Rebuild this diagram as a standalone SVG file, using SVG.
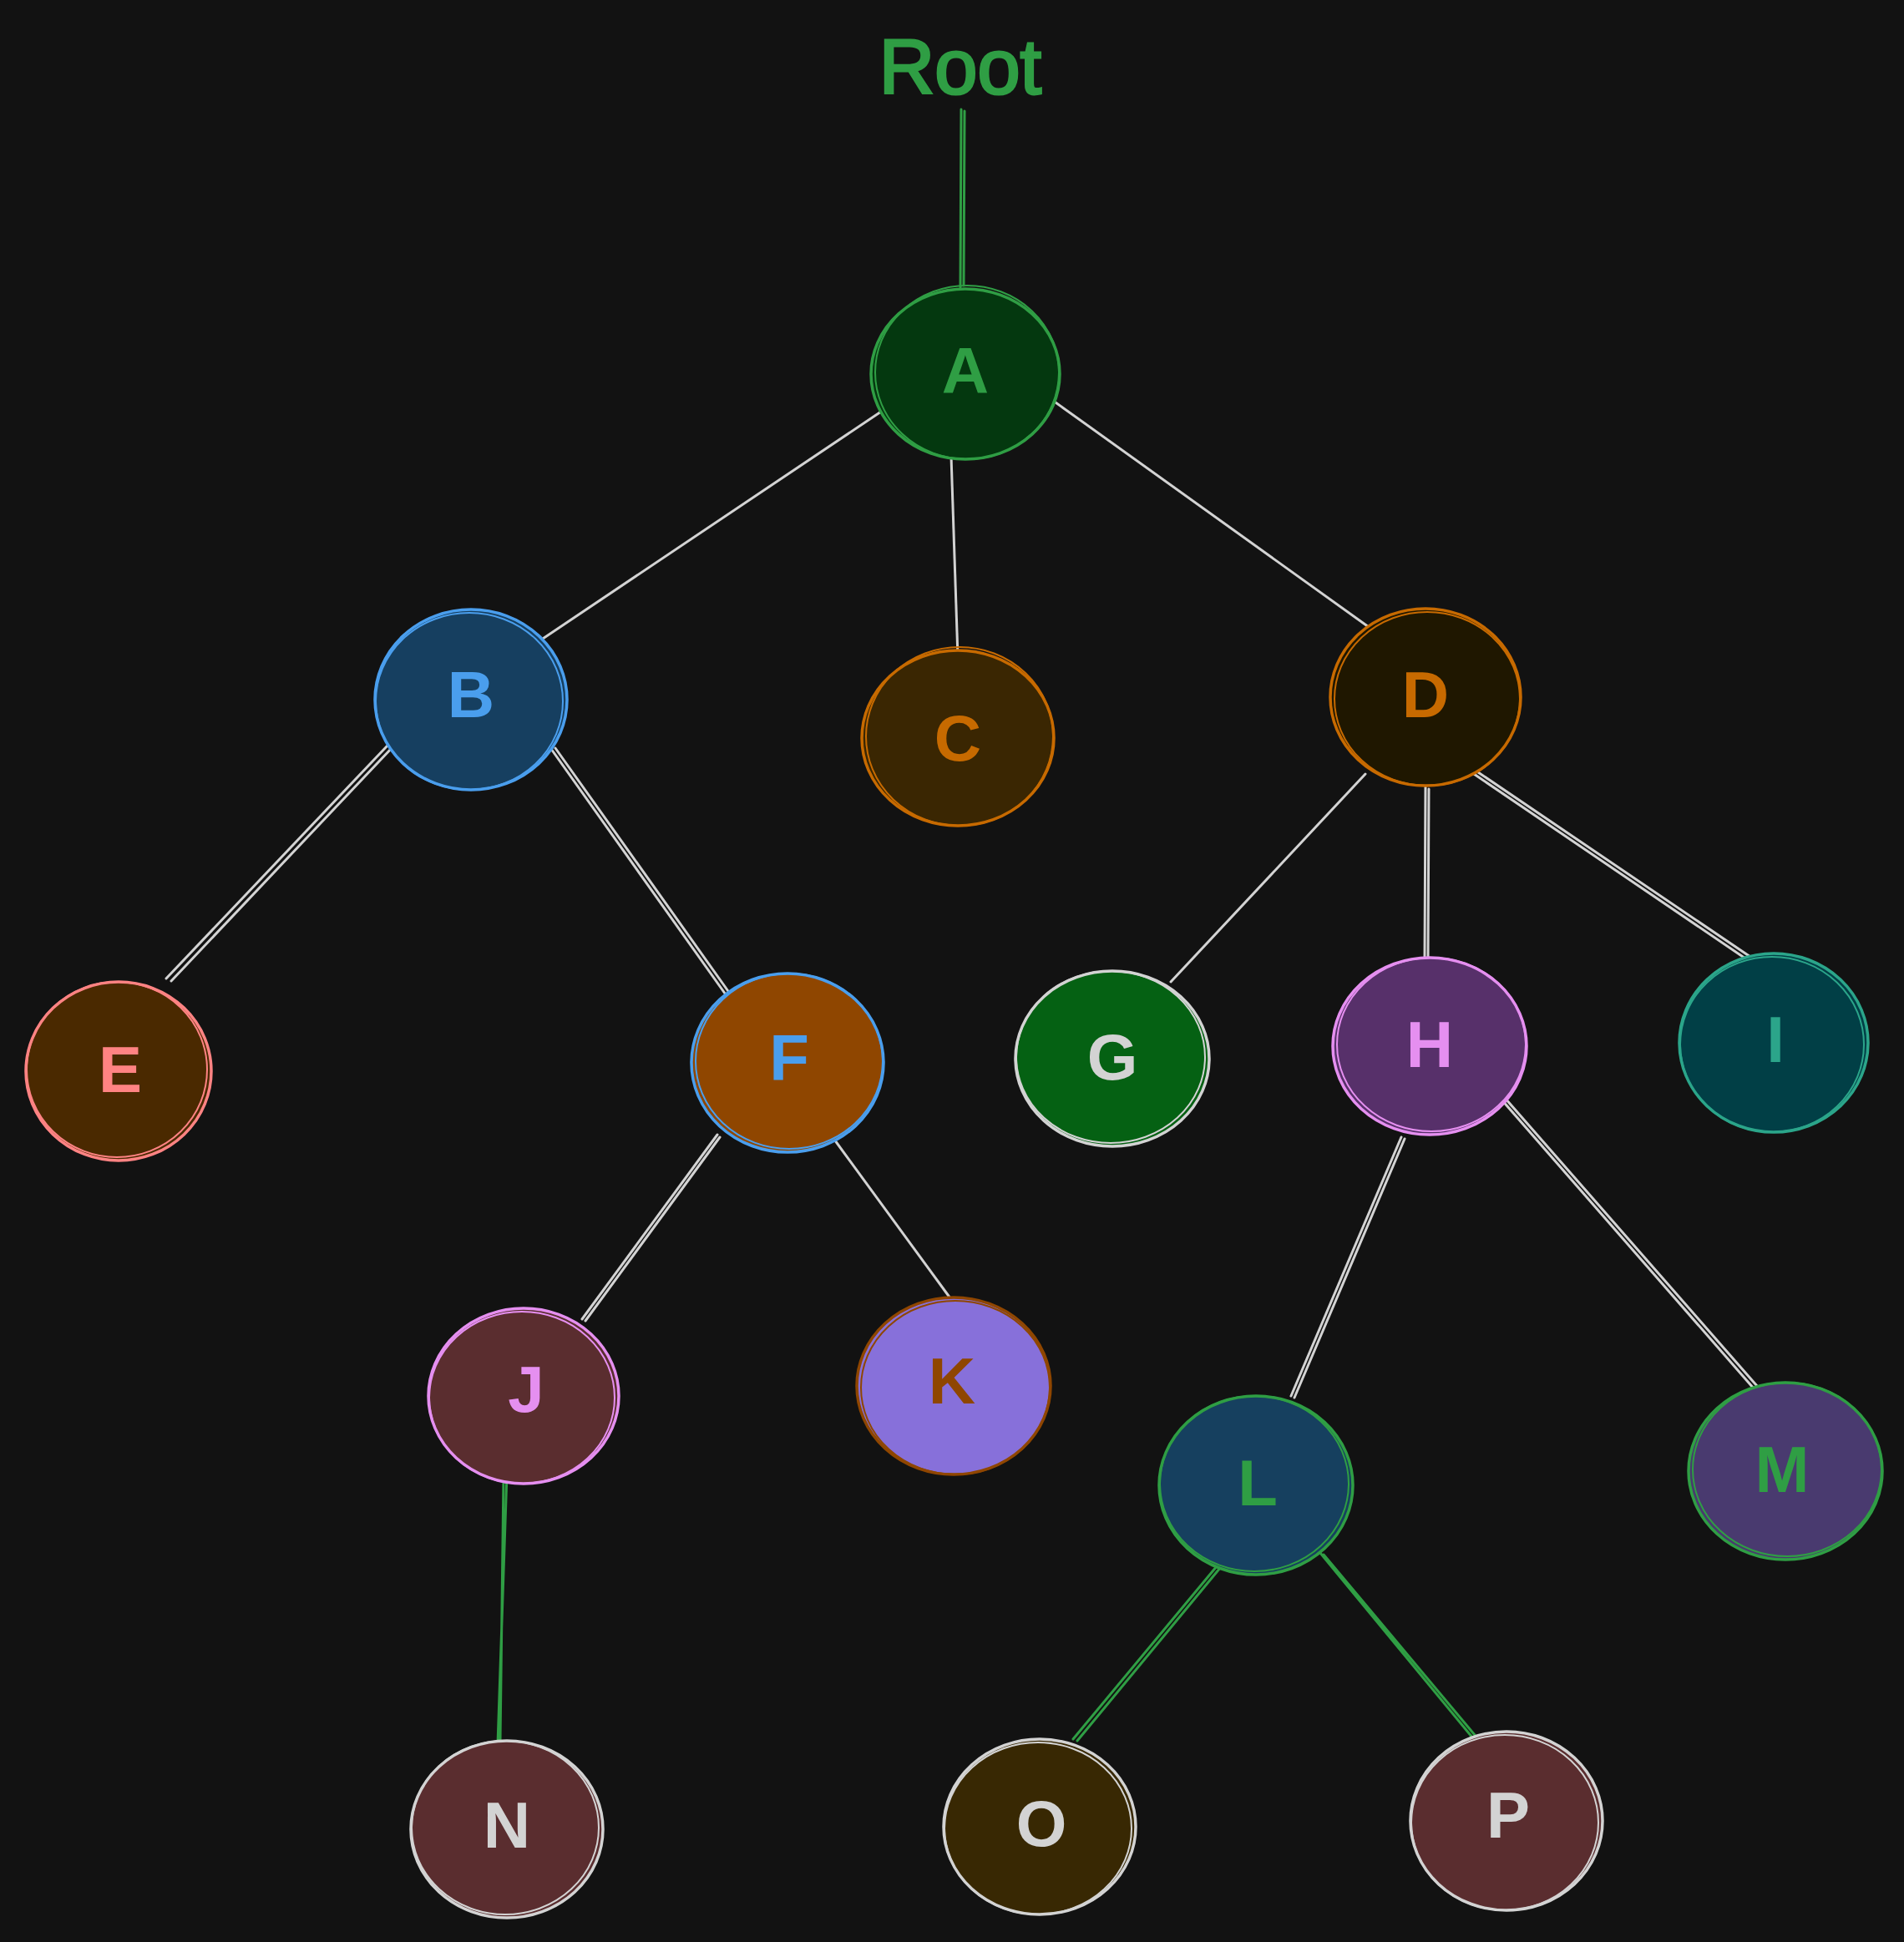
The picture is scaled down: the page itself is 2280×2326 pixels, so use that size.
<svg xmlns="http://www.w3.org/2000/svg" width="2280" height="2326" viewBox="0 0 2280 2326">
<style>
.bg{fill:#121212}
.lbl{font-family:"Liberation Sans","DejaVu Sans",sans-serif;font-size:78px;font-weight:bold;text-anchor:middle;dominant-baseline:central}
.ring{fill:none;stroke-width:3.5}
.ring2{fill:none;stroke-width:2}
.cg{stroke:#d3d3d3;stroke-width:3;fill:none;stroke-linecap:round}
.cgr{stroke:#2f9e44;stroke-width:3;fill:none;stroke-linecap:round}
</style>
<rect class="bg" x="0" y="0" width="2280" height="2326"/>
<g id="root-label">
<text x="1150" y="80" style="font-family:'Liberation Sans','DejaVu Sans',sans-serif;font-size:92px;fill:#2f9e44;stroke:#2f9e44;stroke-width:3;text-anchor:middle;dominant-baseline:central">Root</text>
</g>
<g id="connectors">
<path class="cgr" d="M1151 131 L1150 344 M1155 133 L1154 342"/>
<path class="cg" d="M1064 487 L641 771"/>
<path class="cg" d="M1139 546 L1147 788"/>
<path class="cg" d="M1264 482 L1639 751"/>
<path class="cg" d="M464 893 L199 1172 M469 896 L205 1175"/>
<path class="cg" d="M660 897 L871 1194 M665 896 L874 1190"/>
<path class="cg" d="M1635 927 L1402 1176"/>
<path class="cg" d="M1707 943 L1706 1150 M1711 945 L1710 1148"/>
<path class="cg" d="M1765 927 L2093 1150 M1770 925 L2096 1146"/>
<path class="cg" d="M859 1359 L697 1580 M862 1362 L701 1582"/>
<path class="cg" d="M997 1362 L1138 1555"/>
<path class="cg" d="M1678 1362 L1546 1672 M1682 1364 L1550 1674"/>
<path class="cg" d="M1798 1317 L2100 1663 M1802 1315 L2104 1660"/>
<path class="cgr" d="M607 1765 L596 2089 M603 1768 L599 2086"/>
<path class="cgr" d="M1457 1876 L1285 2083 M1461 1878 L1290 2085"/>
<path class="cgr" d="M1581 1860 L1773 2093 M1585 1862 L1776 2090"/>
</g>
<g id="node-A">
<ellipse cx="1156" cy="448" rx="113" ry="102" fill="#04380f"/>
<ellipse class="ring" cx="1156" cy="448" rx="113" ry="102" stroke="#2f9e44"/>
<ellipse class="ring2" cx="1158" cy="446" rx="110" ry="104" stroke="#2f9e44"/>
<text class="lbl" x="1156" y="444" fill="#2f9e44">A</text>
</g>
<g id="node-B">
<ellipse cx="564" cy="838" rx="115" ry="108" fill="#163f60"/>
<ellipse class="ring" cx="564" cy="838" rx="115" ry="108" stroke="#4a9eed"/>
<ellipse class="ring2" cx="562" cy="840" rx="112" ry="106" stroke="#4a9eed"/>
<text class="lbl" x="564" y="832" fill="#4a9eed">B</text>
</g>
<g id="node-C">
<ellipse cx="1147" cy="884" rx="115" ry="105" fill="#3a2602"/>
<ellipse class="ring" cx="1147" cy="884" rx="115" ry="105" stroke="#c76a00"/>
<ellipse class="ring2" cx="1149" cy="882" rx="112" ry="107" stroke="#c76a00"/>
<text class="lbl" x="1147" y="884" fill="#c76a00">C</text>
</g>
<g id="node-D">
<ellipse cx="1707" cy="835" rx="114" ry="106" fill="#1f1700"/>
<ellipse class="ring" cx="1707" cy="835" rx="114" ry="106" stroke="#c76a00"/>
<ellipse class="ring2" cx="1709" cy="837" rx="111" ry="104" stroke="#c76a00"/>
<text class="lbl" x="1707" y="832" fill="#c76a00">D</text>
</g>
<g id="node-E">
<ellipse cx="142" cy="1283" rx="111" ry="107" fill="#4a2900"/>
<ellipse class="ring" cx="142" cy="1283" rx="111" ry="107" stroke="#ff8383"/>
<ellipse class="ring2" cx="140" cy="1281" rx="108" ry="105" stroke="#ff8383"/>
<text class="lbl" x="144" y="1281" fill="#ff8383">E</text>
</g>
<g id="node-F">
<ellipse cx="943" cy="1273" rx="115" ry="107" fill="#8f4600"/>
<ellipse class="ring" cx="943" cy="1273" rx="115" ry="107" stroke="#4a9eed"/>
<ellipse class="ring2" cx="945" cy="1271" rx="112" ry="105" stroke="#4a9eed"/>
<text class="lbl" x="945" y="1267" fill="#4a9eed">F</text>
</g>
<g id="node-G">
<ellipse cx="1332" cy="1268" rx="116" ry="105" fill="#056113"/>
<ellipse class="ring" cx="1332" cy="1268" rx="116" ry="105" stroke="#d3d3d3"/>
<ellipse class="ring2" cx="1330" cy="1266" rx="113" ry="103" stroke="#d3d3d3"/>
<text class="lbl" x="1332" y="1266" fill="#d3d3d3">G</text>
</g>
<g id="node-H">
<ellipse cx="1712" cy="1253" rx="116" ry="106" fill="#57306a"/>
<ellipse class="ring" cx="1712" cy="1253" rx="116" ry="106" stroke="#e58ff0"/>
<ellipse class="ring2" cx="1714" cy="1251" rx="113" ry="104" stroke="#e58ff0"/>
<text class="lbl" x="1712" y="1251" fill="#e58ff0">H</text>
</g>
<g id="node-I">
<ellipse cx="2124" cy="1249" rx="113" ry="107" fill="#013f46"/>
<ellipse class="ring" cx="2124" cy="1249" rx="113" ry="107" stroke="#2ba58a"/>
<ellipse class="ring2" cx="2122" cy="1251" rx="110" ry="105" stroke="#2ba58a"/>
<text class="lbl" x="2126" y="1245" fill="#2ba58a">I</text>
</g>
<g id="node-J">
<ellipse cx="627" cy="1672" rx="114" ry="105" fill="#5a2d2f"/>
<ellipse class="ring" cx="627" cy="1672" rx="114" ry="105" stroke="#e58ff0"/>
<ellipse class="ring2" cx="625" cy="1674" rx="111" ry="103" stroke="#e58ff0"/>
<text class="lbl" x="630" y="1664" fill="#e58ff0">J</text>
</g>
<g id="node-K">
<ellipse cx="1142" cy="1660" rx="116" ry="106" fill="#8770da"/>
<ellipse class="ring" cx="1142" cy="1660" rx="116" ry="106" stroke="#8f4600"/>
<ellipse class="ring2" cx="1144" cy="1662" rx="113" ry="104" stroke="#8f4600"/>
<text class="lbl" x="1140" y="1654" fill="#8f4600">K</text>
</g>
<g id="node-L">
<ellipse cx="1504" cy="1779" rx="116" ry="107" fill="#16405f"/>
<ellipse class="ring" cx="1504" cy="1779" rx="116" ry="107" stroke="#2f9e44"/>
<ellipse class="ring2" cx="1502" cy="1777" rx="113" ry="105" stroke="#2f9e44"/>
<text class="lbl" x="1506" y="1776" fill="#2f9e44">L</text>
</g>
<g id="node-M">
<ellipse cx="2138" cy="1762" rx="116" ry="106" fill="#493a6f"/>
<ellipse class="ring" cx="2138" cy="1762" rx="116" ry="106" stroke="#2f9e44"/>
<ellipse class="ring2" cx="2140" cy="1760" rx="113" ry="104" stroke="#2f9e44"/>
<text class="lbl" x="2134" y="1760" fill="#2f9e44">M</text>
</g>
<g id="node-N">
<ellipse cx="607" cy="2191" rx="115" ry="106" fill="#5a2d2f"/>
<ellipse class="ring" cx="607" cy="2191" rx="115" ry="106" stroke="#d3d3d3"/>
<ellipse class="ring2" cx="605" cy="2189" rx="112" ry="104" stroke="#d3d3d3"/>
<text class="lbl" x="607" y="2186" fill="#d3d3d3">N</text>
</g>
<g id="node-O">
<ellipse cx="1245" cy="2188" rx="115" ry="105" fill="#382803"/>
<ellipse class="ring" cx="1245" cy="2188" rx="115" ry="105" stroke="#d3d3d3"/>
<ellipse class="ring2" cx="1243" cy="2190" rx="112" ry="103" stroke="#d3d3d3"/>
<text class="lbl" x="1247" y="2184" fill="#d3d3d3">O</text>
</g>
<g id="node-P">
<ellipse cx="1804" cy="2181" rx="115" ry="107" fill="#5a2d2f"/>
<ellipse class="ring" cx="1804" cy="2181" rx="115" ry="107" stroke="#d3d3d3"/>
<ellipse class="ring2" cx="1802" cy="2183" rx="112" ry="105" stroke="#d3d3d3"/>
<text class="lbl" x="1806" y="2174" fill="#d3d3d3">P</text>
</g>
</svg>
